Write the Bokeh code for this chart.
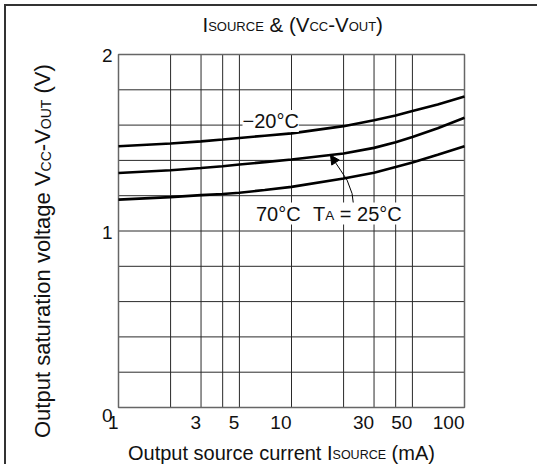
import math
from bokeh.plotting import figure
from bokeh.models import Label, Arrow, NormalHead, Range1d
from bokeh.embed import file_html
from bokeh.resources import INLINE

# ---- data ----
current_ma = [1, 2, 3, 4, 5, 7, 10, 20, 30, 40, 50, 70, 100]
vsat_m20 = [1.480, 1.496, 1.508, 1.518, 1.527, 1.540, 1.553, 1.594, 1.627, 1.655, 1.680, 1.717, 1.762]
vsat_25 = [1.329, 1.344, 1.357, 1.367, 1.377, 1.390, 1.405, 1.439, 1.471, 1.503, 1.533, 1.582, 1.642]
vsat_70 = [1.178, 1.192, 1.203, 1.210, 1.217, 1.232, 1.250, 1.297, 1.330, 1.362, 1.388, 1.432, 1.480]

x_tick_vals = [1, 3, 5, 10, 30, 50, 100]
x_tick_text = ["1", "3", "5", "10", "30", "50", "100"]
x_grid_vals = [1, 2, 3, 4, 5, 10, 20, 30, 40, 50, 100]
y_tick_vals = [0, 1, 2]
y_tick_text = ["0", "1", "2"]
y_grid_vals = [0.0, 0.2, 0.4, 0.6, 0.8, 1.0, 1.2, 1.4, 1.6, 1.8, 2.0]
x_min, x_max = 1, 100
y_min, y_max = 0, 2

# leader from "TA = 25°C" label to the 25°C curve
leader_x = [22.9, 22.4, 20.96, 19.2]
leader_y = [1.137, 1.212, 1.288, 1.345]
arrow_tip = (16.8, 1.43)

FONT = "Liberation Sans"
INK = "#111111"
MID = 0.35  # baseline-to-middle distance, in em

# Arial / Liberation Sans advance widths (1/1000 em)
ADV = {' ': 278, '&': 667, '(': 333, ')': 333, '-': 333, 'A': 667, 'C': 722, 'E': 667,
       'I': 278, 'O': 778, 'R': 722, 'S': 667, 'T': 611, 'U': 722, 'V': 667, 'a': 556,
       'c': 500, 'e': 556, 'g': 556, 'i': 222, 'l': 222, 'm': 833, 'n': 556, 'o': 556,
       'p': 556, 'r': 333, 's': 500, 't': 278, 'u': 556, 'v': 500, '=': 584, '0': 556,
       '2': 556, '5': 556, '7': 556, '\u00b0': 400, '\u2212': 584}


def text_w(s, size):
    return sum(ADV.get(ch, 556) for ch in s) * size / 1000.0


# geometry in page pixels: canvas starts at (CX, CY); plot box FL..FR, FT..FB
CX, CY = 6, 6
W, H = 533, 460
FL, FT, FR, FB = 118, 54, 464, 407
decade = (FR - FL) / math.log10(x_max / x_min)
ppu = (FB - FT) / (y_max - y_min)
xlo = x_min * 10 ** (-(FL - CX) / decade)
xhi = x_min * 10 ** ((CX + W - FL) / decade)
yhi = y_max + (FT - CY) / ppu
ylo = y_min - (CY + H - FB) / ppu

p = figure(width=W, height=H, x_axis_type="log",
           x_range=Range1d(xlo, xhi), y_range=Range1d(ylo, yhi),
           output_backend="svg", toolbar_location=None,
           min_border=0, min_border_left=0, min_border_right=0,
           min_border_top=0, min_border_bottom=0)
p.margin = (CY - 2, 0, 0, CX - 2)
p.styles = {"border-left": "2px solid #333333", "border-top": "2px solid #333333"}
p.background_fill_color = "white"
p.border_fill_color = "white"
p.outline_line_color = None
p.xaxis.visible = False
p.yaxis.visible = False
p.xgrid.visible = False
p.ygrid.visible = False

# grid
p.segment(x0=x_grid_vals, x1=x_grid_vals, y0=[y_min] * len(x_grid_vals), y1=[y_max] * len(x_grid_vals),
          line_color="#2a2a2a", line_width=1)
p.segment(x0=[x_min] * len(y_grid_vals), x1=[x_max] * len(y_grid_vals), y0=y_grid_vals, y1=y_grid_vals,
          line_color="#2a2a2a", line_width=1)
# plot box
p.quad(left=[x_min], right=[x_max], bottom=[y_min], top=[y_max],
       fill_color=None, line_color="#666666", line_width=1.5)

for ys in (vsat_m20, vsat_25, vsat_70):
    p.line(current_ma, ys, line_color="black", line_width=2.6)


def sx(xpage):
    return xpage - CX


def sy(ypage):
    return CY + H - ypage


def lab(text, xpage, ypage, size, angle=0.0, bg=None):
    l = Label(x=sx(xpage), y=sy(ypage), x_units="screen", y_units="screen", text=text,
              text_font=FONT, text_font_size=f"{size}px", text_color=INK,
              angle=angle, text_align="left", text_baseline="middle")
    if bg is not None:
        l.background_fill_color = bg
    p.add_layout(l)


def mixed(pieces, x0, base, big, small, vertical=False, bg=None):
    """x0: start (page px); base: baseline position (page px)."""
    cur = 0.0
    for s, kind in pieces:
        size = big if kind == "b" else small
        lead = len(s) - len(s.lstrip())
        off = text_w(s[:lead], size)
        txt = s.strip()
        if vertical:
            # text runs upward; baseline is the vertical line x = base
            lab(txt, base - MID * size, x0 - cur - off, size, angle=math.pi / 2, bg=bg)
        else:
            lab(txt, x0 + cur + off, base - MID * size, size, bg=bg)
        cur += text_w(s, size)


# title
title_pieces = [("I", "b"), ("SOURCE", "s"), (" & (V", "b"), ("CC", "s"),
                ("-V", "b"), ("OUT", "s"), (")", "b")]
mixed(title_pieces, 202, 31, 20.5, 13)

# x axis label
xlab_pieces = [("Output source current I", "b"), ("SOURCE", "s"), (" (mA)", "b")]
mixed(xlab_pieces, 127.5, 459, 20, 12.5)

# y axis label (vertical, start at the bottom)
ylab_pieces = [("Output saturation voltage V", "b"), ("CC", "s"), ("-V", "b"),
               ("OUT", "s"), (" (V)", "b")]
mixed(ylab_pieces, 437.5, 50, 22, 14, vertical=True)

# tick labels
for v, t in zip(x_tick_vals, x_tick_text):
    p.add_layout(Label(x=v, y=y_min, text=t, text_font=FONT, text_font_size="19px",
                       text_color=INK, text_align="right", text_baseline="middle",
                       x_offset=0, y_offset=-(429 - MID * 19 - FB)))
for v, t in zip(y_tick_vals, y_tick_text):
    p.add_layout(Label(x=x_min, y=v, text=t, text_font=FONT, text_font_size="19px",
                       text_color=INK, text_align="right", text_baseline="middle",
                       x_offset=-6, y_offset=(-8 if v == 0 else -1)))

# curve annotations
mixed([("\u221220\u00b0C", "b")], 242, 127.5, 20, 20, bg="white")
mixed([("70\u00b0C", "b")], 255.5, 220, 20, 20, bg="white")
mixed([("T", "b"), ("A", "s"), (" = 25\u00b0C", "b")], 312.5, 220, 20, 13.5, bg="white")

# leader + arrow
p.line(leader_x, leader_y, line_color="black", line_width=1)
p.add_layout(Arrow(end=NormalHead(size=9, fill_color="black", line_color="black", line_width=1),
                   x_start=leader_x[-1], y_start=leader_y[-1],
                   x_end=arrow_tip[0], y_end=arrow_tip[1],
                   line_color="black", line_width=1))

open("out.html", "w").write(file_html(p, INLINE))
